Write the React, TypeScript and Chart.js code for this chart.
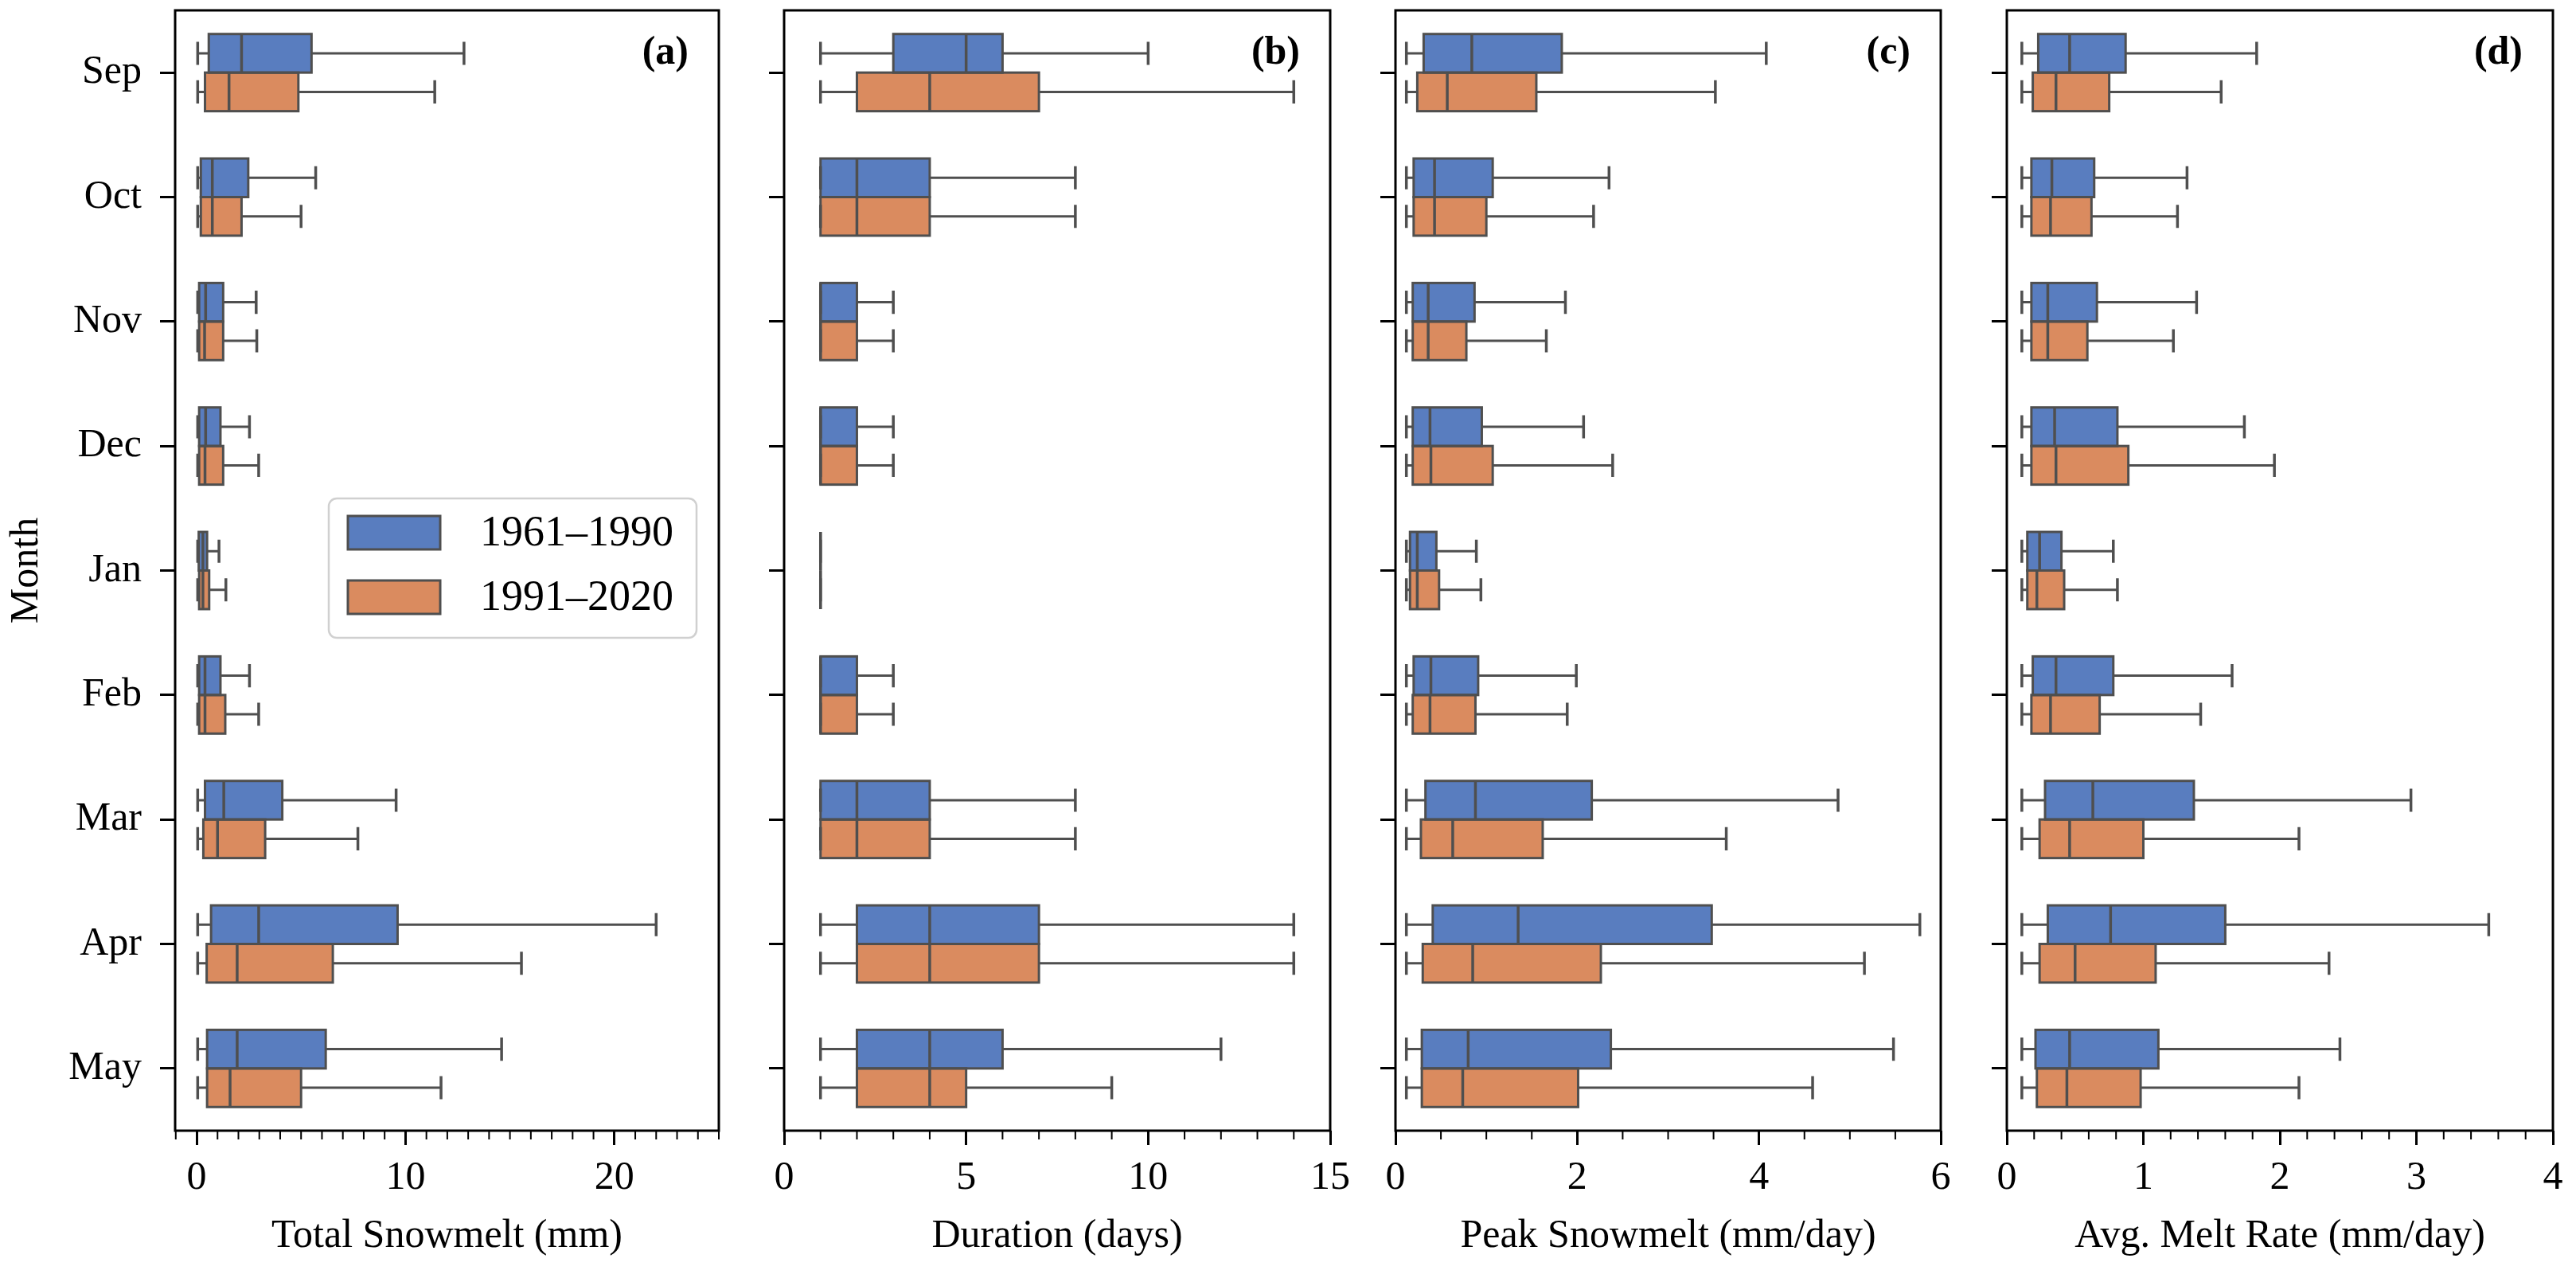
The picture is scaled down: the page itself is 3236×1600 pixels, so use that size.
import React, { useEffect, useRef } from 'react';
import { Chart, registerables } from 'chart.js';

Chart.register(...registerables);

// ---------- data ----------
const months = ['Sep', 'Oct', 'Nov', 'Dec', 'Jan', 'Feb', 'Mar', 'Apr', 'May'];
const seriesLabels = ['1961–1990', '1991–2020'];
const seriesColors = ['#597dbf', '#da8b5f'];

// each row: [lower whisker, Q1, median, Q3, upper whisker]
const totalMelt1961 = [
  [0.05, 0.58, 2.15, 5.5, 12.8],
  [0.05, 0.2, 0.75, 2.47, 5.7],
  [0.05, 0.12, 0.43, 1.27, 2.85],
  [0.05, 0.12, 0.43, 1.14, 2.53],
  [0.05, 0.1, 0.3, 0.5, 1.07],
  [0.05, 0.12, 0.4, 1.14, 2.53],
  [0.05, 0.4, 1.3, 4.1, 9.55],
  [0.05, 0.69, 2.97, 9.62, 22.0],
  [0.05, 0.5, 1.94, 6.18, 14.6],
];
const totalMelt1991 = [
  [0.05, 0.4, 1.55, 4.87, 11.4],
  [0.05, 0.2, 0.75, 2.15, 5.0],
  [0.05, 0.12, 0.38, 1.27, 2.88],
  [0.05, 0.12, 0.4, 1.27, 2.97],
  [0.05, 0.12, 0.3, 0.6, 1.4],
  [0.05, 0.12, 0.4, 1.37, 2.97],
  [0.05, 0.32, 1.0, 3.28, 7.72],
  [0.05, 0.48, 1.94, 6.52, 15.55],
  [0.05, 0.5, 1.6, 5.0, 11.7],
];
const duration1961 = [
  [1, 3, 5, 6, 10],
  [1, 1, 2, 4, 8],
  [1, 1, 1, 2, 3],
  [1, 1, 1, 2, 3],
  [1, 1, 1, 1, 1],
  [1, 1, 1, 2, 3],
  [1, 1, 2, 4, 8],
  [1, 2, 4, 7, 14],
  [1, 2, 4, 6, 12],
];
const duration1991 = [
  [1, 2, 4, 7, 14],
  [1, 1, 2, 4, 8],
  [1, 1, 1, 2, 3],
  [1, 1, 1, 2, 3],
  [1, 1, 1, 1, 1],
  [1, 1, 1, 2, 3],
  [1, 1, 2, 4, 8],
  [1, 2, 4, 7, 14],
  [1, 2, 4, 5, 9],
];
const peakMelt1961 = [
  [0.12, 0.31, 0.84, 1.83, 4.08],
  [0.12, 0.2, 0.43, 1.07, 2.35],
  [0.12, 0.19, 0.36, 0.87, 1.87],
  [0.12, 0.19, 0.38, 0.95, 2.07],
  [0.12, 0.16, 0.24, 0.45, 0.89],
  [0.12, 0.2, 0.39, 0.91, 1.99],
  [0.12, 0.33, 0.88, 2.16, 4.87],
  [0.12, 0.41, 1.35, 3.48, 5.77],
  [0.12, 0.29, 0.8, 2.37, 5.48],
];
const peakMelt1991 = [
  [0.12, 0.24, 0.57, 1.55, 3.52],
  [0.12, 0.2, 0.43, 1.0, 2.18],
  [0.12, 0.19, 0.36, 0.78, 1.66],
  [0.12, 0.19, 0.39, 1.07, 2.39],
  [0.12, 0.16, 0.24, 0.48, 0.94],
  [0.12, 0.19, 0.38, 0.88, 1.89],
  [0.12, 0.28, 0.63, 1.62, 3.64],
  [0.12, 0.3, 0.85, 2.26, 5.16],
  [0.12, 0.29, 0.74, 2.01, 4.59],
];
const meltRate1961 = [
  [0.11, 0.23, 0.46, 0.87, 1.83],
  [0.11, 0.18, 0.33, 0.64, 1.32],
  [0.11, 0.18, 0.3, 0.66, 1.39],
  [0.11, 0.18, 0.35, 0.81, 1.74],
  [0.11, 0.15, 0.24, 0.4, 0.78],
  [0.11, 0.19, 0.36, 0.78, 1.65],
  [0.11, 0.28, 0.63, 1.37, 2.96],
  [0.11, 0.3, 0.76, 1.6, 3.53],
  [0.11, 0.21, 0.46, 1.11, 2.44],
];
const meltRate1991 = [
  [0.11, 0.19, 0.36, 0.75, 1.57],
  [0.11, 0.18, 0.32, 0.62, 1.25],
  [0.11, 0.18, 0.3, 0.59, 1.22],
  [0.11, 0.18, 0.36, 0.89, 1.96],
  [0.11, 0.15, 0.22, 0.42, 0.81],
  [0.11, 0.18, 0.32, 0.68, 1.42],
  [0.11, 0.24, 0.46, 1.0, 2.14],
  [0.11, 0.24, 0.5, 1.09, 2.36],
  [0.11, 0.22, 0.44, 0.98, 2.14],
];

const panelTitles = ['Total Snowmelt (mm)', 'Duration (days)', 'Peak Snowmelt (mm/day)', 'Avg. Melt Rate (mm/day)'];
const panelTags = ['(a)', '(b)', '(c)', '(d)'];
const panelSeries = [
  [totalMelt1961, totalMelt1991],
  [duration1961, duration1991],
  [peakMelt1961, peakMelt1991],
  [meltRate1961, meltRate1991],
];
const xMajorTicks = [[0, 10, 20], [0, 5, 10, 15], [0, 2, 4, 6], [0, 1, 2, 3, 4]];
const xMinorSteps = [1, 1, 0.5, 0.2];
const xLimits = [[-1.03, 25], [0, 15], [0, 6], [0, 4]];
const yTitle = 'Month';

// ---------- layout / style ----------
const FONT = "'Liberation Serif', 'Times New Roman', serif";
const LINE = '#4f4f4f';
const H = 1600;
const panelLayout = [
  { left: 0, width: 945, yW: 220, padR: 42 },
  { left: 945, width: 767, yW: 40, padR: 41 },
  { left: 1712, width: 767, yW: 41, padR: 41 },
  { left: 2479, width: 757, yW: 42, padR: 29 },
];

const zeroPad = (s: any) => {
  s.paddingTop = 0;
  s.paddingBottom = 0;
  s.paddingLeft = 0;
  s.paddingRight = 0;
};

const boxPlugin = {
  id: 'boxExtras',
  afterDatasetsDraw(chart: any) {
    const ctx = chart.ctx;
    const xs = chart.scales.x;
    chart.data.datasets.forEach((ds: any, di: number) => {
      const meta = chart.getDatasetMeta(di);
      meta.data.forEach((bar: any, i: number) => {
        const [lo, q1, med, q3, hi] = ds.stats[i];
        const { y, height } = bar.getProps(['y', 'height'], true);
        const pLo = xs.getPixelForValue(lo);
        const pQ1 = xs.getPixelForValue(q1);
        const pMed = xs.getPixelForValue(med);
        const pQ3 = xs.getPixelForValue(q3);
        const pHi = xs.getPixelForValue(hi);
        const top = y - height / 2;
        ctx.save();
        ctx.strokeStyle = LINE;
        ctx.lineCap = 'butt';
        // box outline centred on the quartile edges
        ctx.lineWidth = 3;
        ctx.strokeRect(pQ1, top, pQ3 - pQ1, height);
        // whiskers
        ctx.beginPath();
        ctx.moveTo(pLo, y); ctx.lineTo(pQ1, y);
        ctx.moveTo(pQ3, y); ctx.lineTo(pHi, y);
        ctx.stroke();
        // caps
        const c = height * 0.3;
        ctx.lineWidth = 3.5;
        ctx.beginPath();
        ctx.moveTo(pLo, y - c); ctx.lineTo(pLo, y + c);
        ctx.moveTo(pHi, y - c); ctx.lineTo(pHi, y + c);
        ctx.stroke();
        // median
        ctx.beginPath();
        ctx.moveTo(pMed, top); ctx.lineTo(pMed, top + height);
        ctx.stroke();
        ctx.restore();
      });
    });
  },
  afterDraw(chart: any) {
    const ctx = chart.ctx;
    const ca = chart.chartArea;
    const o = chart.options.plugins.boxExtras || {};
    ctx.save();
    // frame
    ctx.strokeStyle = '#000';
    ctx.lineWidth = 3;
    ctx.strokeRect(ca.left, ca.top, ca.right - ca.left, ca.bottom - ca.top);
    // minor ticks
    const xs = chart.scales.x;
    const step = o.minorStep;
    const majors: number[] = o.majors;
    ctx.lineWidth = 2;
    ctx.beginPath();
    for (let k = Math.ceil((xs.min - 1e-9) / step); k * step <= xs.max + 1e-9; k++) {
      const v = k * step;
      if (majors.some((m) => Math.abs(m - v) < 1e-6)) continue;
      const px = xs.getPixelForValue(v);
      ctx.moveTo(px, ca.bottom);
      ctx.lineTo(px, ca.bottom + 11);
    }
    ctx.stroke();
    // panel tag
    ctx.fillStyle = '#000';
    ctx.font = `bold 50px ${FONT}`;
    ctx.textAlign = 'right';
    ctx.textBaseline = 'middle';
    ctx.fillText(o.tag, ca.right - 38, ca.top + 54);
    // legend (first panel)
    if (o.legend) {
      const lx = ca.left + 193;
      const ly = ca.top + 613;
      ctx.beginPath();
      ctx.roundRect(lx, ly, 462, 175, 10);
      ctx.fillStyle = 'rgba(255,255,255,0.8)';
      ctx.fill();
      ctx.strokeStyle = '#d0d0d0';
      ctx.lineWidth = 2.5;
      ctx.stroke();
      chart.data.datasets.forEach((ds: any, i: number) => {
        const cy = ly + 43 + i * 81;
        ctx.fillStyle = ds.backgroundColor;
        ctx.fillRect(lx + 24, cy - 21, 116, 42);
        ctx.strokeStyle = LINE;
        ctx.lineWidth = 3;
        ctx.strokeRect(lx + 24, cy - 21, 116, 42);
        ctx.fillStyle = '#000';
        ctx.font = `54px ${FONT}`;
        ctx.textAlign = 'left';
        ctx.textBaseline = 'middle';
        ctx.fillText(ds.label, lx + 190, cy + 2);
      });
    }
    ctx.restore();
  },
};

function Panel({ idx }: { idx: number }) {
  const ref = useRef<HTMLCanvasElement | null>(null);
  const lay = panelLayout[idx];
  useEffect(() => {
    if (!ref.current) return;
    const first = idx === 0;
    const chart = new Chart(ref.current, {
      type: 'bar',
      data: {
        labels: months,
        datasets: panelSeries[idx].map((s, si) => ({
          label: seriesLabels[si],
          data: s.map((r) => [r[1], r[3]]),
          stats: s,
          backgroundColor: seriesColors[si],
          borderWidth: 0,
          borderSkipped: false,
          categoryPercentage: 0.62,
          barPercentage: 1,
        })) as any,
      },
      options: {
        indexAxis: 'y',
        animation: false,
        responsive: false,
        devicePixelRatio: 1,
        layout: { padding: { top: 13, right: lay.padR, left: 0, bottom: 0 } },
        plugins: {
          legend: { display: false },
          tooltip: { enabled: false },
          boxExtras: {
            tag: panelTags[idx],
            majors: xMajorTicks[idx],
            minorStep: xMinorSteps[idx],
            legend: first,
          },
        } as any,
        scales: {
          x: {
            type: 'linear',
            position: 'bottom',
            min: xLimits[idx][0],
            max: xLimits[idx][1],
            afterBuildTicks: (s: any) => {
              s.ticks = xMajorTicks[idx].map((v) => ({ value: v }));
            },
            afterFit: (s: any) => {
              s.height = 180;
              zeroPad(s);
            },
            ticks: {
              font: { family: FONT, size: 50 },
              color: '#000',
              padding: 12,
              maxRotation: 0,
              autoSkip: false,
              callback: (v: any) => String(v),
            },
            grid: {
              drawOnChartArea: false,
              drawTicks: true,
              tickLength: 18,
              tickWidth: 3,
              tickColor: '#000',
            },
            border: { display: false },
            title: {
              display: true,
              text: panelTitles[idx],
              font: { family: FONT, size: 50 },
              color: '#000',
              padding: { top: 0, bottom: 17 },
            },
          },
          y: {
            type: 'category',
            position: 'left',
            offset: true,
            afterFit: (s: any) => {
              s.width = lay.yW;
              zeroPad(s);
            },
            ticks: {
              display: first,
              font: { family: FONT, size: 50 },
              color: '#000',
              padding: 23,
              autoSkip: false,
            },
            grid: {
              offset: false,
              drawOnChartArea: false,
              drawTicks: true,
              tickLength: 19,
              tickWidth: 3,
              tickColor: '#000',
            },
            border: { display: false },
            title: {
              display: first,
              text: yTitle,
              font: { family: FONT, size: 50 },
              color: '#000',
              padding: { top: 4, bottom: 0 },
            },
          },
        } as any,
      },
      plugins: [boxPlugin],
    } as any);
    return () => chart.destroy();
  }, [idx]);
  return (
    <canvas
      ref={ref}
      width={lay.width}
      height={H}
      style={{ position: 'absolute', left: lay.left, top: 0, width: lay.width, height: H }}
    />
  );
}

export default function App() {
  return (
    <div style={{ position: 'absolute', left: 0, top: 0, width: 3236, height: H, background: '#fff' }}>
      {[0, 1, 2, 3].map((i) => (
        <Panel key={i} idx={i} />
      ))}
    </div>
  );
}
